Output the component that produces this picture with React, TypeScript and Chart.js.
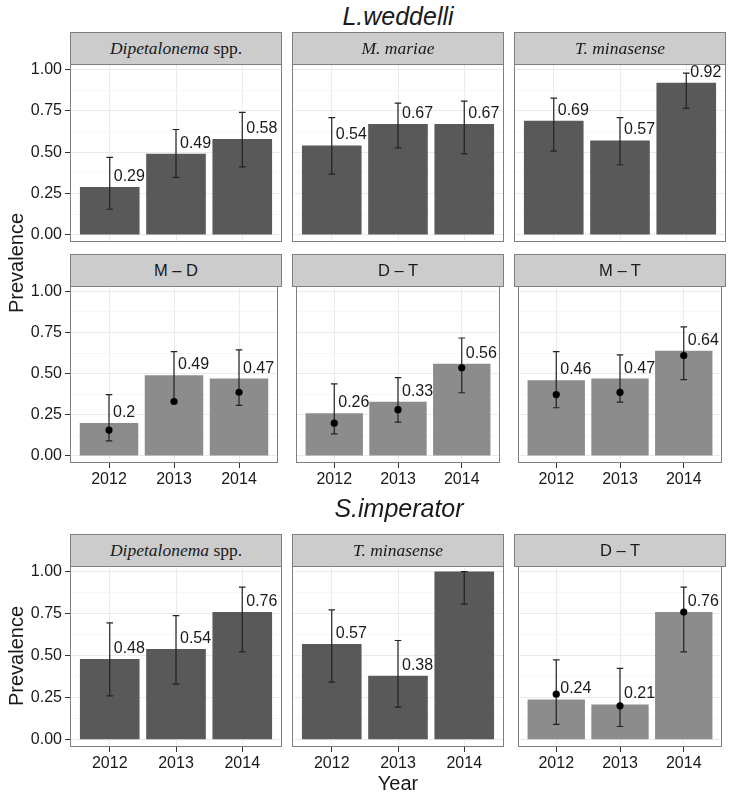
import React, { useEffect, useRef } from "react";
import { Chart, registerables } from "chart.js";

Chart.register(...registerables);

const years = ["2012", "2013", "2014"];

const panelTitles = [
  "Dipetalonema spp.",
  "M. mariae",
  "T. minasense",
  "M – D",
  "D – T",
  "M – T",
  "Dipetalonema spp.",
  "T. minasense",
  "D – T",
];

// bar height = prevalence (also used for the text labels)
const prevalence = [
  [0.29, 0.49, 0.58],
  [0.54, 0.67, 0.67],
  [0.69, 0.57, 0.92],
  [0.2, 0.49, 0.47],
  [0.26, 0.33, 0.56],
  [0.46, 0.47, 0.64],
  [0.48, 0.54, 0.76],
  [0.57, 0.38, 1],
  [0.24, 0.21, 0.76],
];

const ciLower = [
  [0.155, 0.348, 0.411],
  [0.367, 0.526, 0.49],
  [0.506, 0.424, 0.765],
  [0.092, 0.331, 0.307],
  [0.134, 0.205, 0.384],
  [0.293, 0.327, 0.464],
  [0.261, 0.331, 0.523],
  [0.343, 0.194, 0.806],
  [0.091, 0.079, 0.523],
];

const ciUpper = [
  [0.468, 0.637, 0.741],
  [0.709, 0.797, 0.809],
  [0.827, 0.709, 0.978],
  [0.373, 0.634, 0.645],
  [0.438, 0.476, 0.717],
  [0.634, 0.614, 0.785],
  [0.695, 0.738, 0.907],
  [0.772, 0.59, 1],
  [0.475, 0.424, 0.907],
];

// point estimates shown only in the co-infection panels
const observed: (number[] | null)[] = [
  null,
  null,
  null,
  [0.157, 0.331, 0.387],
  [0.199, 0.281, 0.536],
  [0.373, 0.386, 0.61],
  null,
  null,
  [0.271, 0.202, 0.759],
];

const yTicks = [0, 0.125, 0.25, 0.375, 0.5, 0.625, 0.75, 0.875, 1];

const SANS = "'Liberation Sans', Arial, Helvetica, sans-serif";
const SERIF = "'Liberation Serif', 'Times New Roman', serif";

const COL_LEFT = [70, 292, 514];
const PANEL_W = 212;
const ROWS = [
  { top: 64, bottom: 242, showX: false },
  { top: 286, bottom: 463, showX: true },
  { top: 566, bottom: 747, showX: true },
];
const PAD = 16;
const X_AXIS_H = 30;
const STRIP_H = 33;

const DARK = "#595959";
const LIGHT = "#8c8c8c";
const TEXT = "#1a1a1a";

const Strip: React.FC<{ title: string; left: number; top: number }> = ({
  title,
  left,
  top,
}) => {
  let content: React.ReactNode;
  let font = SANS;
  let size = 16.5;
  if (title.endsWith(" spp.")) {
    content = (
      <>
        <i>{title.replace(" spp.", "")}</i>
        {"\u00a0spp."}
      </>
    );
    font = SERIF;
    size = 17.5;
  } else if (title.includes(".")) {
    content = <i>{title}</i>;
    font = SERIF;
    size = 17.5;
  } else {
    content = title;
  }
  return (
    <div
      style={{
        position: "absolute",
        left,
        top,
        width: PANEL_W,
        height: STRIP_H,
        boxSizing: "border-box",
        background: "#cccccc",
        border: "1px solid #7f7f7f",
        display: "flex",
        alignItems: "center",
        justifyContent: "center",
        fontFamily: font,
        fontSize: size,
        color: TEXT,
        zIndex: 2,
      }}
    >
      {content}
    </div>
  );
};

interface PanelProps {
  index: number;
  row: number;
  col: number;
}

const Panel: React.FC<PanelProps> = ({ index, row, col }) => {
  const canvasRef = useRef<HTMLCanvasElement | null>(null);
  const r = ROWS[row];
  const axisW = col === 0 ? COL_LEFT[0] : 0;
  const axisH = r.showX ? X_AXIS_H : 0;
  const plotH = r.bottom - r.top;
  const canvasW = PANEL_W + axisW;
  const canvasH = plotH + axisH + 2 * PAD;
  const left = COL_LEFT[col] - axisW;
  const top = r.top - PAD;

  useEffect(() => {
    if (!canvasRef.current) return;
    const vals = prevalence[index];
    const lo = ciLower[index];
    const hi = ciUpper[index];
    const pts = observed[index];

    const extras = {
      id: "panelExtras",
      afterDatasetDraw(chart: any, args: any) {
        if (args.meta.type !== "bar") return;
        const { ctx, chartArea, scales } = chart;
        ctx.save();
        ctx.beginPath();
        ctx.rect(chartArea.left, chartArea.top, chartArea.right - chartArea.left, chartArea.bottom - chartArea.top);
        ctx.clip();
        ctx.strokeStyle = "#222222";
        ctx.lineWidth = 1.2;
        lo.forEach((l, i) => {
          const x = scales.x.getPixelForValue(i + 1);
          const y1 = scales.y.getPixelForValue(l);
          const y2 = scales.y.getPixelForValue(hi[i]);
          ctx.beginPath();
          ctx.moveTo(x, y1);
          ctx.lineTo(x, y2);
          ctx.moveTo(x - 3.3, y1);
          ctx.lineTo(x + 3.3, y1);
          ctx.moveTo(x - 3.3, y2);
          ctx.lineTo(x + 3.3, y2);
          ctx.stroke();
        });
        ctx.restore();
      },
      afterDatasetsDraw(chart: any) {
        const { ctx, chartArea, scales } = chart;
        ctx.save();
        ctx.beginPath();
        ctx.rect(chartArea.left, chartArea.top, chartArea.right - chartArea.left, chartArea.bottom - chartArea.top);
        ctx.clip();
        ctx.font = `16px ${SANS}`;
        ctx.fillStyle = TEXT;
        ctx.textAlign = "left";
        ctx.textBaseline = "middle";
        vals.forEach((v, i) => {
          const x = scales.x.getPixelForValue(i + 1);
          const y = scales.y.getPixelForValue(v);
          ctx.fillText(String(v), x + 4, y - 10.5);
        });
        ctx.restore();
        ctx.save();
        ctx.strokeStyle = "#7f7f7f";
        ctx.lineWidth = 1;
        ctx.strokeRect(
          Math.round(chartArea.left) + 0.5,
          Math.round(chartArea.top) + 0.5,
          Math.round(chartArea.right - chartArea.left) - 1,
          Math.round(chartArea.bottom - chartArea.top) - 1
        );
        ctx.restore();
      },
    };

    const datasets: any[] = [
      {
        type: "bar",
        data: vals.map((v, i) => ({ x: i + 1, y: v })),
        backgroundColor: pts ? LIGHT : DARK,
        borderWidth: 0,
        categoryPercentage: 1,
        barPercentage: 0.9,
        order: 2,
      },
    ];
    if (pts) {
      datasets.push({
        type: "scatter",
        data: pts.map((v, i) => ({ x: i + 1, y: v })),
        pointRadius: 3.6,
        backgroundColor: "#000000",
        borderWidth: 0,
        order: 1,
      });
    }

    const chart = new Chart(canvasRef.current, {
      type: "bar",
      data: { datasets },
      options: {
        animation: false,
        responsive: false,
        maintainAspectRatio: false,
        events: [],
        layout: { padding: { top: PAD, bottom: PAD, left: 0, right: 0 } },
        plugins: { legend: { display: false }, tooltip: { enabled: false } },
        scales: {
          x: {
            type: "linear",
            min: 0.4,
            max: 3.6,
            offset: false,
            afterBuildTicks: (s: any) => {
              s.ticks = [1, 2, 3].map((v) => ({ value: v }));
            },
            afterFit: (s: any) => {
              s.height = axisH;
            },
            border: { display: false },
            grid: {
              offset: false,
              color: "#ebebeb",
              drawTicks: r.showX,
              tickLength: 5,
              tickColor: "#333333",
            },
            ticks: {
              display: r.showX,
              autoSkip: false,
              maxRotation: 0,
              padding: 2,
              color: TEXT,
              font: { family: SANS, size: 16 },
              callback: (v: any) => years[Number(v) - 1],
            },
          },
          y: {
            type: "linear",
            min: -0.043,
            max: 1.033,
            afterBuildTicks: (s: any) => {
              s.ticks = yTicks.map((v) => ({ value: v }));
            },
            afterFit: (s: any) => {
              s.width = axisW;
            },
            border: { display: false },
            grid: {
              color: (c: any) => (c.index % 2 === 0 ? "#ebebeb" : "#f7f7f7"),
              drawTicks: col === 0,
              tickLength: 5,
              tickColor: (c: any) => (c.index % 2 === 0 ? "#333333" : "rgba(0,0,0,0)"),
            },
            ticks: {
              display: col === 0,
              autoSkip: false,
              padding: 3,
              color: TEXT,
              font: { family: SANS, size: 16 },
              callback: (v: any, i: number) => (i % 2 === 0 ? Number(v).toFixed(2) : ""),
            },
          },
        },
      } as any,
      plugins: [extras],
    });

    return () => {
      chart.destroy();
    };
  }, [index, row, col]);

  return (
    <>
      <Strip title={panelTitles[index]} left={COL_LEFT[col]} top={r.top - STRIP_H + 1} />
      <canvas
        ref={canvasRef}
        width={canvasW}
        height={canvasH}
        style={{ position: "absolute", left, top, width: canvasW, height: canvasH, zIndex: 1 }}
      />
    </>
  );
};

const Label: React.FC<{ x: number; y: number; size: number; italic?: boolean; rotate?: boolean; children: React.ReactNode }> = ({
  x,
  y,
  size,
  italic,
  rotate,
  children,
}) => (
  <div
    style={{
      position: "absolute",
      left: x,
      top: y,
      transform: `translate(-50%, -50%)${rotate ? " rotate(-90deg)" : ""}`,
      fontFamily: SANS,
      fontSize: size,
      fontStyle: italic ? "italic" : "normal",
      color: TEXT,
      whiteSpace: "nowrap",
      lineHeight: 1,
      zIndex: 3,
    }}
  >
    {children}
  </div>
);

export default function App() {
  const panels = panelTitles.map((_, i) => ({ index: i, row: Math.floor(i / 3), col: i % 3 }));
  return (
    <div
      style={{
        position: "absolute",
        left: 0,
        top: 0,
        width: 731,
        height: 798,
        background: "#ffffff",
        overflow: "hidden",
      }}
    >
      <Label x={398} y={16} size={25} italic>
        L.weddelli
      </Label>
      <Label x={399} y={508} size={25} italic>
        S.imperator
      </Label>
      <Label x={16} y={263} size={20} rotate>
        Prevalence
      </Label>
      <Label x={16} y={656} size={20} rotate>
        Prevalence
      </Label>
      <Label x={398} y={783} size={20}>
        Year
      </Label>
      {panels.map((p) => (
        <Panel key={p.index} index={p.index} row={p.row} col={p.col} />
      ))}
    </div>
  );
}
